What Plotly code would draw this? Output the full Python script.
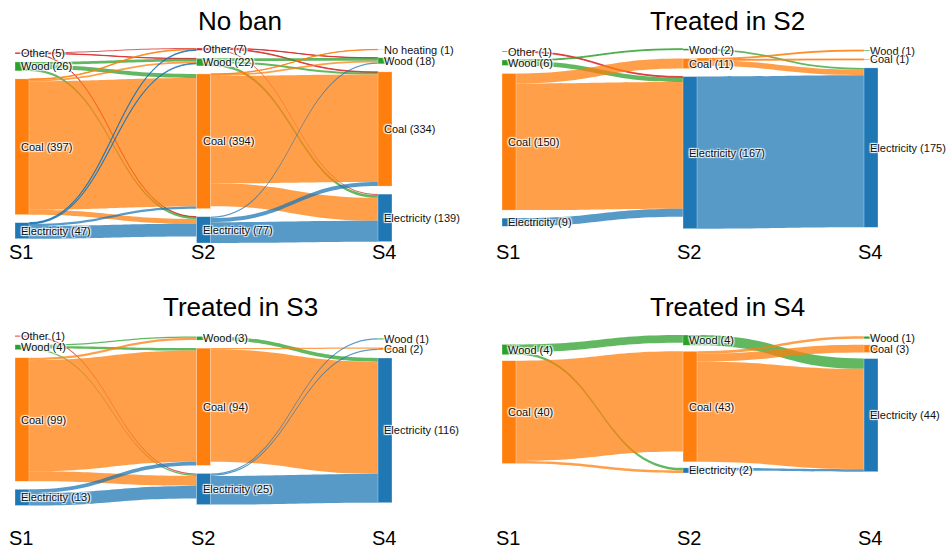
import plotly.graph_objects as go

# ---------------------------------------------------------------------------
# Heating fuel of households at survey waves S1, S2 and S4
# ---------------------------------------------------------------------------
STAGES = ["S1", "S2", "S4"]

# --- No ban ---------------------------------------------------------------
noban_s1 = ["Other", "Wood", "Coal", "Electricity"]
noban_s1_n = [5, 26, 397, 47]
noban_s2 = ["Other", "Wood", "Coal", "Electricity"]
noban_s2_n = [7, 22, 394, 77]
noban_s4 = ["No heating", "Wood", "Coal", "Electricity"]
noban_s4_n = [1, 18, 334, 139]
# rows: fuel at the earlier wave, columns: fuel at the later wave
noban_s1_s2 = [
    [3, 1, 0, 1],
    [0, 8, 12, 6],
    [2, 5, 376, 14],
    [2, 2, 6, 37],
]
noban_s2_s4 = [
    [0, 1, 2, 3],
    [0, 8, 6, 8],
    [1, 5, 314, 67],
    [0, 4, 12, 61],
]

# --- Treated in S2 --------------------------------------------------------
ts2_s1 = ["Other", "Wood", "Coal", "Electricity"]
ts2_s1_n = [1, 6, 150, 9]
ts2_s2 = ["Wood", "Coal", "Electricity"]
ts2_s2_n = [2, 11, 167]
ts2_s4 = ["Wood", "Coal", "Electricity"]
ts2_s4_n = [1, 1, 175]
ts2_s1_s2 = [
    [0, 0, 1],
    [1, 0, 5],
    [0, 11, 139],
    [0, 0, 9],
]
ts2_s2_s4 = [
    [0, 0, 2],
    [1, 1, 6],
    [0, 0, 167],
]

# --- Treated in S3 --------------------------------------------------------
ts3_s1 = ["Other", "Wood", "Coal", "Electricity"]
ts3_s1_n = [1, 4, 99, 13]
ts3_s2 = ["Wood", "Coal", "Electricity"]
ts3_s2_n = [3, 94, 25]
ts3_s4 = ["Wood", "Coal", "Electricity"]
ts3_s4_n = [1, 2, 116]
ts3_s1_s2 = [
    [0, 0, 1],
    [1, 2, 1],
    [2, 89, 8],
    [0, 3, 10],
]
ts3_s2_s4 = [
    [0, 0, 3],
    [0, 1, 90],
    [1, 1, 23],
]

# --- Treated in S4 --------------------------------------------------------
ts4_s1 = ["Wood", "Coal"]
ts4_s1_n = [4, 40]
ts4_s2 = ["Wood", "Coal", "Electricity"]
ts4_s2_n = [4, 43, 2]
ts4_s4 = ["Wood", "Coal", "Electricity"]
ts4_s4_n = [1, 3, 44]
ts4_s1_s2 = [
    [3, 0, 1],
    [0, 39, 1],
]
ts4_s2_s4 = [
    [0, 0, 4],
    [1, 3, 39],
    [0, 0, 1],
]

# ---------------------------------------------------------------------------
# Styling and panel placement (pixels)
# ---------------------------------------------------------------------------
FIG_W, FIG_H = 952, 552
THICK = 14
FONT = "Liberation Sans, Arial, Helvetica, sans-serif"
FUEL_COLORS = {
    "Other": "#d62728",
    "Wood": "#2ca02c",
    "Coal": "#ff7f0e",
    "Electricity": "#1f77b4",
    "No heating": "#8c8c8c",
}
LINK_ALPHA = 0.75
HALO = "1px 1px 1px #fff, 1px -1px 1px #fff, -1px 1px 1px #fff, -1px -1px 1px #fff"

panels = [
    dict(title="No ban",
         columns=[(noban_s1, noban_s1_n), (noban_s2, noban_s2_n), (noban_s4, noban_s4_n)],
         flows=[noban_s1_s2, noban_s2_s4],
         box=(15, 48, 392, 243), pad=8, title_xy=(240, 21), stage_y=252),
    dict(title="Treated in S2",
         columns=[(ts2_s1, ts2_s1_n), (ts2_s2, ts2_s2_n), (ts2_s4, ts2_s4_n)],
         flows=[ts2_s1_s2, ts2_s2_s4],
         box=(502, 48.7, 878, 228.7), pad=8, title_xy=(727, 21), stage_y=252),
    dict(title="Treated in S3",
         columns=[(ts3_s1, ts3_s1_n), (ts3_s2, ts3_s2_n), (ts3_s4, ts3_s4_n)],
         flows=[ts3_s1_s2, ts3_s2_s4],
         box=(15, 335.5, 392, 505.5), pad=8, title_xy=(240, 307), stage_y=538),
    dict(title="Treated in S4",
         columns=[(ts4_s1, ts4_s1_n), (ts4_s2, ts4_s2_n), (ts4_s4, ts4_s4_n)],
         flows=[ts4_s1_s2, ts4_s2_s4],
         box=(502, 335, 878, 473), pad=6, title_xy=(727, 307), stage_y=538),
]


def rgba(hex_color, alpha):
    h = hex_color.lstrip("#")
    r, g, b = int(h[0:2], 16), int(h[2:4], 16), int(h[4:6], 16)
    return f"rgba({r},{g},{b},{alpha})"


fig = go.Figure()
annotations = []

for p in panels:
    x0, y0, x1, y1 = p["box"]
    W, H = x1 - x0, y1 - y0
    pad = p["pad"]

    # node index bookkeeping
    offsets, names, counts, depth = [], [], [], []
    for d, (nm, cnt) in enumerate(p["columns"]):
        offsets.append(len(names))
        names += nm
        counts += cnt
        depth += [d] * len(nm)

    src, tgt, val, lcol = [], [], [], []
    inflow = [0] * len(names)
    outflow = [0] * len(names)
    for k, mat in enumerate(p["flows"]):
        for i, row in enumerate(mat):
            for j, v in enumerate(row):
                if v <= 0:
                    continue
                s = offsets[k] + i
                t = offsets[k + 1] + j
                src.append(s)
                tgt.append(t)
                val.append(v)
                lcol.append(rgba(FUEL_COLORS[names[s]], LINK_ALPHA))
                outflow[s] += v
                inflow[t] += v

    # node size as the sankey layout computes it
    size = [max(a, b) for a, b in zip(inflow, outflow)]
    for n, c, s in zip(names, counts, size):
        assert c == s, (p["title"], n, c, s)

    cols = [[i for i in range(len(names)) if depth[i] == d] for d in range(3)]
    ky = min((H - (len(c) - 1) * pad) / sum(size[i] for i in c) for c in cols)

    node_x, node_y, centers = [0.0] * len(names), [0.0] * len(names), [0.0] * len(names)
    for d, c in enumerate(cols):
        total = sum(size[i] for i in c) * ky + (len(c) - 1) * pad
        y = (H - total) / 2
        for i in c:
            h = size[i] * ky
            centers[i] = y + h / 2
            node_y[i] = centers[i] / H
            node_x[i] = (THICK / 2 + d * (W - THICK) / 2) / W
            y += h + pad

    fig.add_trace(go.Sankey(
        domain=dict(x=[x0 / FIG_W, x1 / FIG_W], y=[1 - y1 / FIG_H, 1 - y0 / FIG_H]),
        arrangement="fixed",
        node=dict(
            label=["" for _ in names],
            customdata=[f"{n} ({c})" for n, c in zip(names, counts)],
            hovertemplate="%{customdata}<extra></extra>",
            x=node_x, y=node_y,
            pad=pad, thickness=THICK,
            color=[FUEL_COLORS[n] for n in names],
            line=dict(color="rgba(255,255,255,0.6)", width=0.5),
        ),
        link=dict(source=src, target=tgt, value=val, color=lcol),
    ))

    # node labels, drawn over the left part of each node
    for i, (n, c) in enumerate(zip(names, counts)):
        nx0 = x0 + depth[i] * (W - THICK) / 2
        annotations.append(dict(
            text=f"{n} ({c})", x=(nx0 + 4) / FIG_W, y=1 - (y0 + centers[i]) / FIG_H,
            xref="paper", yref="paper", xanchor="left", yanchor="middle",
            showarrow=False, font=dict(family=FONT, size=11, color="#111", shadow=HALO),
        ))

    # wave labels under each column
    for d, st in enumerate(STAGES):
        cx = x0 + d * (W - THICK) / 2 + THICK / 2 - 1
        annotations.append(dict(
            text=st, x=cx / FIG_W, y=1 - p["stage_y"] / FIG_H,
            xref="paper", yref="paper", xanchor="center", yanchor="middle",
            showarrow=False, font=dict(family=FONT, size=20, color="#000"),
        ))

    tx, ty = p["title_xy"]
    annotations.append(dict(
        text=p["title"], x=tx / FIG_W, y=1 - ty / FIG_H,
        xref="paper", yref="paper", xanchor="center", yanchor="middle",
        showarrow=False, font=dict(family=FONT, size=26, color="#000"),
    ))

fig.update_layout(
    width=FIG_W, height=FIG_H,
    margin=dict(l=0, r=0, t=0, b=0),
    paper_bgcolor="white",
    font=dict(family=FONT),
    annotations=annotations,
)

fig.write_html("out.html")
